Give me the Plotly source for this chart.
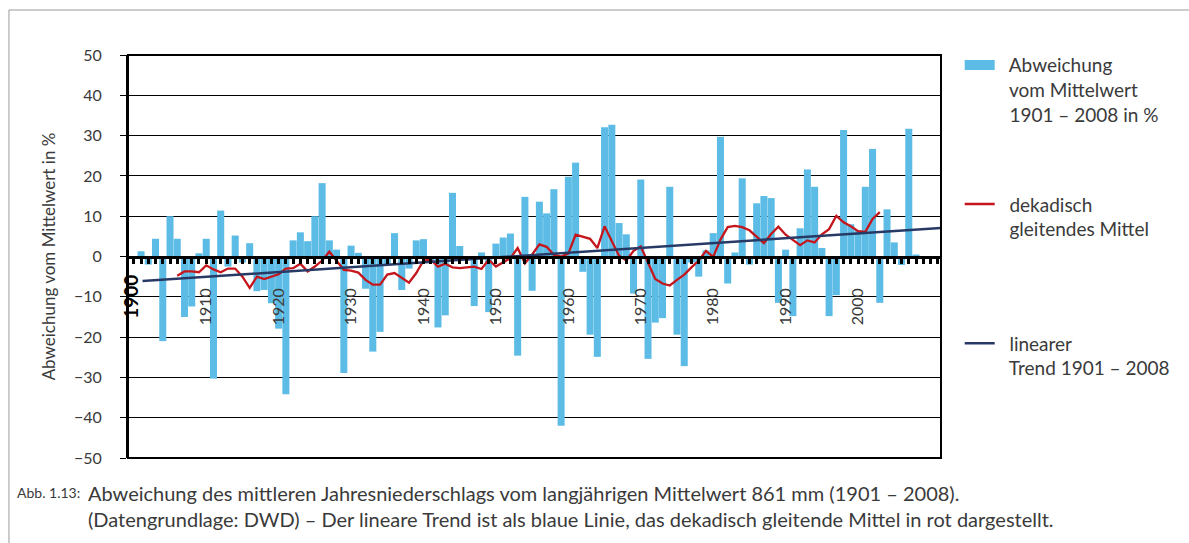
import plotly.graph_objects as go

# ---------------- data ----------------
years = list(range(1901, 2009))
deviation = [
    1.3, -2.0, 4.4, -21.0, 10.0, 4.4, -15.0, -12.4, 0.8, 4.4,      # 1901-1910
    -30.3, 11.4, -2.5, 5.2, -1.5, 3.3, -8.6, -8.3, -11.6, -17.9,   # 1911-1920
    -34.2, 4.0, 6.0, 3.8, 10.0, 18.2, 4.0, 1.7, -28.9, 2.7,        # 1921-1930
    0.9, -8.0, -23.6, -18.7, -2.0, 5.8, -8.3, -3.0, 4.0, 4.3,      # 1931-1940
    -1.0, -17.6, -14.6, 15.8, 2.6, -1.0, -12.3, 1.0, -13.8, 3.2,   # 1941-1950
    4.7, 5.7, -24.6, 14.8, -8.5, 13.6, 10.7, 16.7, -42.0, 19.8,    # 1951-1960
    23.3, -3.8, -19.4, -24.9, 32.1, 32.7, 8.3, 5.5, -9.2, 19.1,    # 1961-1970
    -25.4, -16.4, -15.3, 17.3, -19.4, -27.2, -1.5, -5.0, 1.5, 5.8, # 1971-1980
    29.7, -6.7, 1.0, 19.4, -2.0, 13.2, 15.0, 14.5, -11.5, 1.7,     # 1981-1990
    -14.8, 7.0, 21.6, 17.3, 2.1, -14.8, -9.6, 31.4, 8.0, 6.5,      # 1991-2000
    17.3, 26.7, -11.5, 11.7, 3.5, -2.1, 31.7, 0.5                  # 2001-2008
]

ma_years = list(range(1906, 2004))
moving_avg = [
    -4.8, -3.7, -3.7, -3.9, -2.2,                                  # 1906-1910
    -3.2, -3.9, -3.0, -3.0, -5.0, -7.8, -5.0, -5.6, -5.0, -4.4,    # 1911-1920
    -3.0, -2.9, -1.8, -3.7, -2.5, -1.0, 1.2, -1.2, -3.3, -3.5,     # 1921-1930
    -4.0, -5.8, -7.0, -7.0, -4.5, -4.1, -5.4, -6.5, -4.1, -1.0,    # 1931-1940
    -0.8, -2.5, -1.8, -2.7, -2.9, -2.7, -2.5, -3.1, -0.8, -2.5,    # 1941-1950
    -1.5, -0.4, 2.1, -1.7, 0.5, 3.0, 2.4, 0.4, 0.0, 0.7,           # 1951-1960
    5.4, 4.9, 4.4, 2.1, 7.5, 3.8, 0.2, -1.0, 1.4, 2.5,             # 1961-1970
    -1.5, -5.6, -6.7, -7.2, -5.8, -4.5, -2.7, -1.0, 1.4, -0.1,     # 1971-1980
    4.2, 7.3, 7.6, 7.3, 6.5, 4.9, 3.3, 5.6, 7.4, 5.4,              # 1981-1990
    4.0, 2.8, 4.0, 3.5, 5.5, 6.8, 10.1, 8.5, 7.5, 6.3,             # 1991-2000
    6.1, 9.3, 11.0                                                 # 2001-2003
]

trend_years = [1901.2, 2011.4]
trend_values = [-6.1, 7.1]

decade_ticks = [1910, 1920, 1930, 1940, 1950, 1960, 1970, 1980, 1990, 2000]
decade_labels = [str(v) for v in decade_ticks]
year_ticks = list(range(1900, 2012))
y_ticks = list(range(-50, 51, 10))

legend_lines = [
    ["Abweichung", "vom Mittelwert", "1901 – 2008 in %"],
    ["dekadisch", "gleitendes Mittel", " "],
    ["linearer", "Trend 1901 – 2008", " "],
]

caption_label = "Abb. 1.13:"
caption_line1 = "Abweichung des mittleren Jahresniederschlags vom langjährigen Mittelwert 861 mm (1901 – 2008)."
caption_line2 = "(Datengrundlage: DWD) – Der lineare Trend ist als blaue Linie, das dekadisch gleitende Mittel in rot dargestellt."

# ---------------- style ----------------
BLUE = "#5CBCE5"
RED = "#C4161C"
NAVY = "#273A66"
TEXT = "#3A3A3A"
FONT = "Lato"
X_RANGE = [1899.2, 2011.45]
PAD = "\u00a0\u00a0"

fig = go.Figure()
fig.add_trace(go.Bar(x=years, y=deviation, marker=dict(color=BLUE, line=dict(width=0)),
                     showlegend=False, hoverinfo="x+y"))
fig.add_trace(go.Scatter(x=trend_years, y=trend_values, mode="lines", xaxis="x2",
                         line=dict(color=NAVY, width=2.5), showlegend=False))
fig.add_trace(go.Scatter(x=ma_years, y=moving_avg, mode="lines",
                         line=dict(color=RED, width=2.3), showlegend=False))

# legend entries
for lines, color, width, grp in [(legend_lines[0], BLUE, 10, "a"),
                                 (legend_lines[1], RED, 2.5, "b"),
                                 (legend_lines[2], NAVY, 2.5, "c")]:
    name = "<br>".join(PAD + t for t in lines)
    fig.add_trace(go.Scatter(x=[None], y=[None], mode="lines", name=name, legendgroup=grp,
                             line=dict(color=color, width=width)))

fig.update_layout(
    width=1189, height=543,
    margin=dict(l=128, r=248, t=55, b=85),
    paper_bgcolor="white", plot_bgcolor="white",
    font=dict(family=FONT, color=TEXT),
    bargap=0.03,
    xaxis=dict(range=X_RANGE, anchor="free", position=0.5,
               showline=True, linecolor="black", linewidth=3,
               ticks="outside", ticklen=5, tickwidth=3, tickcolor="black",
               tickmode="array", tickvals=year_ticks, showticklabels=False,
               showgrid=False, zeroline=False, layer="above traces"),
    xaxis2=dict(range=X_RANGE, overlaying="x", anchor="free", position=0.432, side="bottom",
                tickmode="array", tickvals=decade_ticks, ticktext=decade_labels,
                tickangle=-90, ticks="", showline=False, showgrid=False, zeroline=False,
                tickfont=dict(size=16, color=TEXT, family=FONT)),
    yaxis=dict(range=[-50, 50], tickmode="array", tickvals=y_ticks,
               showgrid=True, gridcolor="black", gridwidth=1, zeroline=False,
               showline=True, linecolor="black", linewidth=2,
               ticks="outside", ticklen=6, tickcolor="black", tickwidth=1,
               ticklabelstandoff=15,
               tickfont=dict(size=16, color=TEXT, family=FONT),
               title=dict(text="Abweichung vom Mittelwert in %", standoff=14,
                          font=dict(size=17, color=TEXT, family=FONT))),
    legend=dict(x=1.023, y=1.022, xanchor="left", yanchor="top", valign="top",
                font=dict(size=19, color=TEXT, family=FONT), maxheight=1.0,
                tracegroupgap=62, itemwidth=30, bgcolor="rgba(0,0,0,0)"),
    shapes=[
        dict(type="rect", xref="paper", yref="paper", x0=0, x1=1, y0=0, y1=1,
             line=dict(color="black", width=2), layer="above"),
        dict(type="line", xref="paper", yref="paper", x0=-0.1464, x1=-0.1464, y0=-0.3, y1=1.1117,
             line=dict(color="#9a9a9a", width=1)),
        dict(type="line", xref="paper", yref="paper", x0=-0.1464, x1=1.4, y0=1.1117, y1=1.1117,
             line=dict(color="#9a9a9a", width=1)),
    ],
    annotations=[
        dict(text="<b>1900</b>", x=1899.6, y=-10, xref="x", yref="y", textangle=-90,
             showarrow=False, font=dict(size=19, color="black", family=FONT)),
        dict(text=caption_label, x=-0.1390, y=-0.0868, xref="paper", yref="paper",
             xanchor="left", yanchor="middle", showarrow=False,
             font=dict(size=14, color=TEXT, family=FONT)),
        dict(text=caption_line1, x=-0.0517, y=-0.0868, xref="paper", yref="paper",
             xanchor="left", yanchor="middle", showarrow=False,
             font=dict(size=20, color=TEXT, family=FONT)),
        dict(text=caption_line2, x=-0.0517, y=-0.1514, xref="paper", yref="paper",
             xanchor="left", yanchor="middle", showarrow=False,
             font=dict(size=20, color=TEXT, family=FONT)),
    ],
)

fig.write_html("out.html", config={"displayModeBar": False},
               post_script="document.body.style.margin='0';document.body.style.overflow='hidden';")
